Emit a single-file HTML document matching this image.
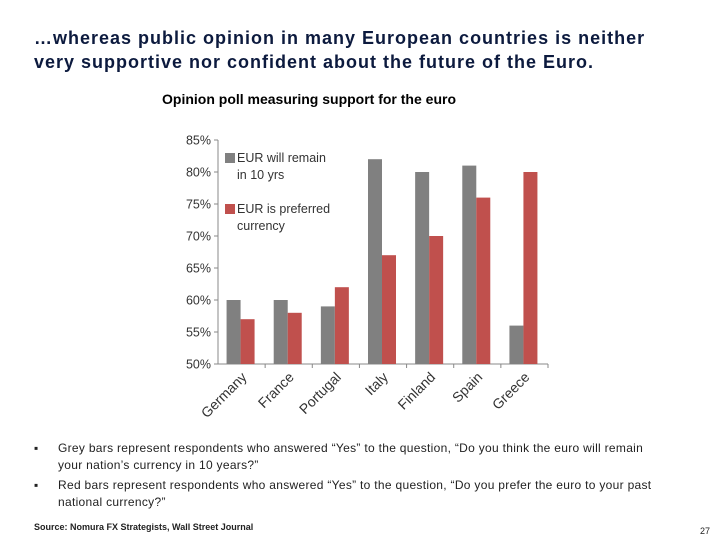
<!DOCTYPE html>
<html><head><meta charset="utf-8"><style>
body{margin:0;width:720px;height:540px;background:#fff;font-family:"Liberation Sans",sans-serif;position:relative;overflow:hidden}
.a{position:absolute;margin:0}
</style></head><body>
<div class="a" style="left:34px;top:26px;font-size:18px;font-weight:bold;letter-spacing:1px;line-height:24px;color:#0c1a3e;white-space:nowrap">…whereas public opinion in many European countries is neither<br>very supportive nor confident about the future of the Euro.</div>
<svg class="a" style="left:0;top:0" width="720" height="440">
<text x="162" y="104" font-size="14" font-weight="bold" font-family="Liberation Sans">Opinion poll measuring support for the euro</text>
<g id="g"></g>
</svg>
<div class="a" style="left:34px;top:440px;font-size:12px;line-height:17px;color:#222;white-space:nowrap"><span style="position:absolute;left:0">▪</span><div style="margin-left:24px;letter-spacing:0.3px">Grey bars represent respondents who answered “Yes” to the question, “Do you think the euro will remain<br>your nation’s currency in 10 years?”</div></div>
<div class="a" style="left:34px;top:477px;font-size:12px;line-height:17px;color:#222;white-space:nowrap"><span style="position:absolute;left:0">▪</span><div style="margin-left:24px;letter-spacing:0.3px">Red bars represent respondents who answered “Yes” to the question, “Do you prefer the euro to your past<br>national currency?”</div></div>
<div class="a" style="left:34px;top:522px;font-size:9px;font-weight:bold;color:#222">Source: Nomura FX Strategists, Wall Street Journal</div>
<div class="a" style="left:700px;top:526px;font-size:9px;color:#222">27</div>
<script>
const categories=["Germany","France","Portugal","Italy","Finland","Spain","Greece"];
const remainValues=[60,60,59,82,80,81,56];
const preferredValues=[57,58,62,67,70,76,80];
const yTicks=[50,55,60,65,70,75,80,85];
const NS="http://www.w3.org/2000/svg",g=document.getElementById('g');
const x0=218,x1=548,yTop=140,yBot=364,ymin=50,ymax=85;
const y=v=>yBot-(v-ymin)/(ymax-ymin)*(yBot-yTop);
const cw=(x1-x0)/categories.length;
function mk(t,a){const e=document.createElementNS(NS,t);for(const k in a)e.setAttribute(k,a[k]);g.appendChild(e);return e;}
let e=mk('line',{x1:x0,y1:yTop,x2:x0,y2:yBot,stroke:'#888'});

e=mk('line',{x1:x0,y1:yBot,x2:x1,y2:yBot,stroke:'#888'});

yTicks.forEach(v=>{
 const l=mk('line',{x1:x0-4,y1:y(v),x2:x0,y2:y(v),stroke:'#888'});
 
 const t=mk('text',{x:x0-7,y:y(v)+4.5,'text-anchor':'end','font-size':'12.5','fill':'#333','font-family':'Liberation Sans'});
 t.textContent=v+'%';
});
categories.forEach((c,i)=>{
 const tx=x0+cw*(i+1);
 const l=mk('line',{x1:tx,y1:yBot,x2:tx,y2:yBot+4,stroke:'#888'});
 
 const cx=x0+cw*i+cw/2;
 const r1=mk('rect',{x:cx-15,y:y(remainValues[i]),width:14,height:yBot-y(remainValues[i]),fill:'#808080'});
 
 const r2=mk('rect',{x:cx-1,y:y(preferredValues[i]),width:14,height:yBot-y(preferredValues[i]),fill:'#c0504d'});
 
 const t=mk('text',{x:cx+6,y:yBot+14,'text-anchor':'end','font-size':'14','fill':'#333','font-family':'Liberation Sans',transform:`rotate(-45 ${cx+6} ${yBot+14})`});
 t.textContent=c;
});
const leg=[['#808080',['EUR will remain','in 10 yrs'],153],['#c0504d',['EUR is preferred','currency'],204]];
leg.forEach(([col,lines,ly])=>{
 const r=mk('rect',{x:225,y:ly,width:10,height:10,fill:col});
 
 lines.forEach((s,j)=>{const t=mk('text',{x:237,y:ly+9+j*17,'font-size':'12.5','fill':'#333','font-family':'Liberation Sans'});
 t.textContent=s;});
});
</script>
</body></html>
